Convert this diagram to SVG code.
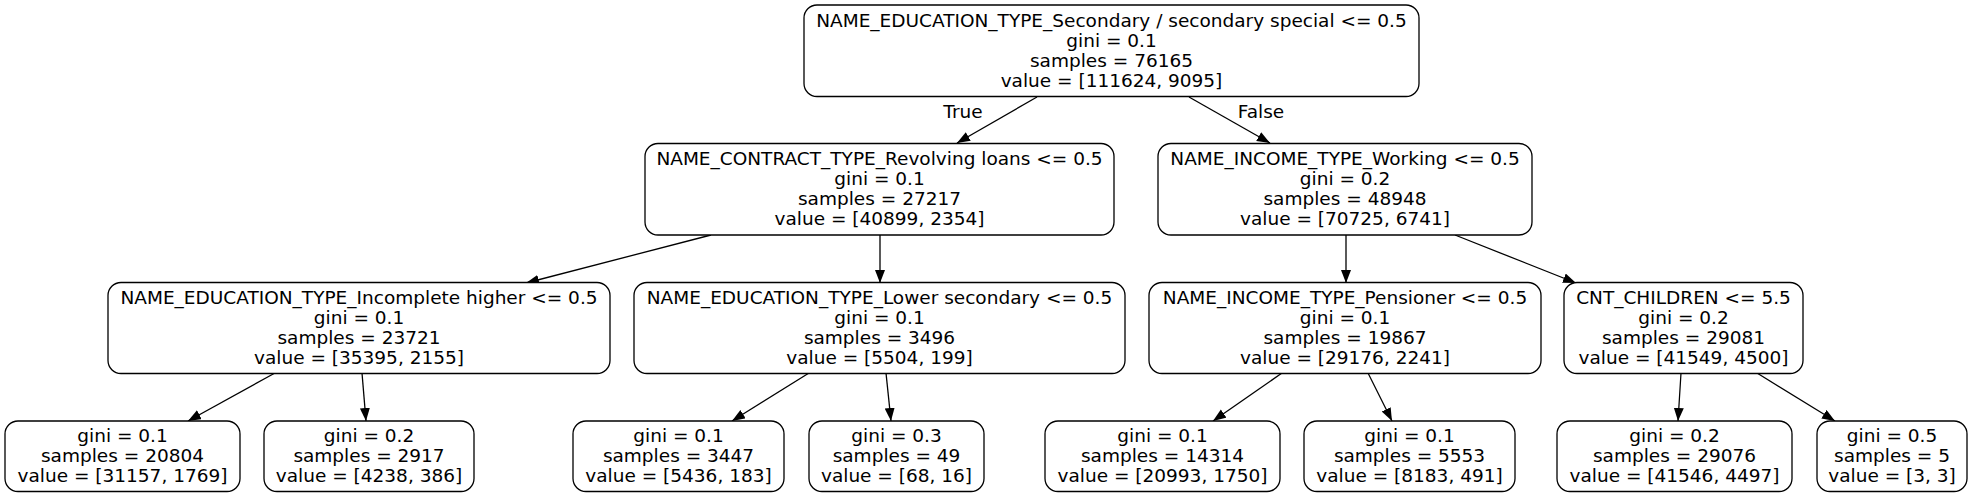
<svg xmlns="http://www.w3.org/2000/svg" width="1973" height="497" viewBox="0 0 1973 497">
<style>
.n rect{fill:#fff;stroke:#000;stroke-width:1.3}
text{font-family:"DejaVu Sans","Liberation Sans",sans-serif;font-size:18.5px;fill:#000;text-anchor:middle}
.e line{stroke:#000;stroke-width:1.3}
</style>
<defs>
<marker id="ah" markerUnits="userSpaceOnUse" markerWidth="16" markerHeight="12" refX="13" refY="5" orient="auto">
<path d="M0,0 L13,5 L0,10 z" fill="#000"/>
</marker>
</defs>
<rect width="1973" height="497" fill="#fff"/>
<g id="edges" class="e">
<line x1="1037" y1="97" x2="957" y2="143" marker-end="url(#ah)"/>
<line x1="1189" y1="97" x2="1270" y2="143" marker-end="url(#ah)"/>
<line x1="711" y1="235" x2="526" y2="283" marker-end="url(#ah)"/>
<line x1="880" y1="235" x2="880" y2="283" marker-end="url(#ah)"/>
<line x1="1346" y1="235" x2="1346" y2="283" marker-end="url(#ah)"/>
<line x1="1455" y1="235" x2="1576" y2="283" marker-end="url(#ah)"/>
<line x1="275" y1="373" x2="188" y2="421" marker-end="url(#ah)"/>
<line x1="362" y1="373" x2="366" y2="421" marker-end="url(#ah)"/>
<line x1="809" y1="373" x2="732" y2="421" marker-end="url(#ah)"/>
<line x1="886" y1="373" x2="891" y2="421" marker-end="url(#ah)"/>
<line x1="1282" y1="373" x2="1213" y2="421" marker-end="url(#ah)"/>
<line x1="1368" y1="373" x2="1392" y2="421" marker-end="url(#ah)"/>
<line x1="1681" y1="373" x2="1678" y2="421" marker-end="url(#ah)"/>
<line x1="1757" y1="373" x2="1835" y2="421" marker-end="url(#ah)"/>
<text x="963" y="118">True</text>
<text x="1261" y="118">False</text>
</g>
<g id="n0" class="n"><rect x="804" y="5" width="615" height="91.5" rx="13"/>
<text x="1111.5" y="27">NAME_EDUCATION_TYPE_Secondary / secondary special &lt;= 0.5</text>
<text x="1111.5" y="47">gini = 0.1</text>
<text x="1111.5" y="67">samples = 76165</text>
<text x="1111.5" y="87">value = [111624, 9095]</text></g>
<g id="n1" class="n"><rect x="645" y="143.5" width="469" height="91.5" rx="13"/>
<text x="879.5" y="164.5">NAME_CONTRACT_TYPE_Revolving loans &lt;= 0.5</text>
<text x="879.5" y="184.5">gini = 0.1</text>
<text x="879.5" y="204.5">samples = 27217</text>
<text x="879.5" y="224.5">value = [40899, 2354]</text></g>
<g id="n2" class="n"><rect x="1158" y="143.5" width="374" height="91.5" rx="13"/>
<text x="1345" y="164.5">NAME_INCOME_TYPE_Working &lt;= 0.5</text>
<text x="1345" y="184.5">gini = 0.2</text>
<text x="1345" y="204.5">samples = 48948</text>
<text x="1345" y="224.5">value = [70725, 6741]</text></g>
<g id="n3" class="n"><rect x="108" y="282.5" width="502" height="91" rx="13"/>
<text x="359" y="303.5">NAME_EDUCATION_TYPE_Incomplete higher &lt;= 0.5</text>
<text x="359" y="323.5">gini = 0.1</text>
<text x="359" y="343.5">samples = 23721</text>
<text x="359" y="363.5">value = [35395, 2155]</text></g>
<g id="n4" class="n"><rect x="634" y="282.5" width="491" height="91" rx="13"/>
<text x="879.5" y="303.5">NAME_EDUCATION_TYPE_Lower secondary &lt;= 0.5</text>
<text x="879.5" y="323.5">gini = 0.1</text>
<text x="879.5" y="343.5">samples = 3496</text>
<text x="879.5" y="363.5">value = [5504, 199]</text></g>
<g id="n5" class="n"><rect x="1149" y="282.5" width="392" height="91" rx="13"/>
<text x="1345" y="303.5">NAME_INCOME_TYPE_Pensioner &lt;= 0.5</text>
<text x="1345" y="323.5">gini = 0.1</text>
<text x="1345" y="343.5">samples = 19867</text>
<text x="1345" y="363.5">value = [29176, 2241]</text></g>
<g id="n6" class="n"><rect x="1564" y="282.5" width="239" height="91" rx="13"/>
<text x="1683.5" y="303.5">CNT_CHILDREN &lt;= 5.5</text>
<text x="1683.5" y="323.5">gini = 0.2</text>
<text x="1683.5" y="343.5">samples = 29081</text>
<text x="1683.5" y="363.5">value = [41549, 4500]</text></g>
<g id="n7" class="n"><rect x="5" y="421" width="235" height="70.5" rx="13"/>
<text x="122.5" y="442">gini = 0.1</text>
<text x="122.5" y="462">samples = 20804</text>
<text x="122.5" y="482">value = [31157, 1769]</text></g>
<g id="n8" class="n"><rect x="264" y="421" width="210" height="70.5" rx="13"/>
<text x="369" y="442">gini = 0.2</text>
<text x="369" y="462">samples = 2917</text>
<text x="369" y="482">value = [4238, 386]</text></g>
<g id="n9" class="n"><rect x="573" y="421" width="211" height="70.5" rx="13"/>
<text x="678.5" y="442">gini = 0.1</text>
<text x="678.5" y="462">samples = 3447</text>
<text x="678.5" y="482">value = [5436, 183]</text></g>
<g id="n10" class="n"><rect x="809" y="421" width="175" height="70.5" rx="13"/>
<text x="896.5" y="442">gini = 0.3</text>
<text x="896.5" y="462">samples = 49</text>
<text x="896.5" y="482">value = [68, 16]</text></g>
<g id="n11" class="n"><rect x="1045" y="421" width="235" height="70.5" rx="13"/>
<text x="1162.5" y="442">gini = 0.1</text>
<text x="1162.5" y="462">samples = 14314</text>
<text x="1162.5" y="482">value = [20993, 1750]</text></g>
<g id="n12" class="n"><rect x="1304" y="421" width="211" height="70.5" rx="13"/>
<text x="1409.5" y="442">gini = 0.1</text>
<text x="1409.5" y="462">samples = 5553</text>
<text x="1409.5" y="482">value = [8183, 491]</text></g>
<g id="n13" class="n"><rect x="1557" y="421" width="235" height="70.5" rx="13"/>
<text x="1674.5" y="442">gini = 0.2</text>
<text x="1674.5" y="462">samples = 29076</text>
<text x="1674.5" y="482">value = [41546, 4497]</text></g>
<g id="n14" class="n"><rect x="1817" y="421" width="150" height="70.5" rx="13"/>
<text x="1892" y="442">gini = 0.5</text>
<text x="1892" y="462">samples = 5</text>
<text x="1892" y="482">value = [3, 3]</text></g>
</svg>
